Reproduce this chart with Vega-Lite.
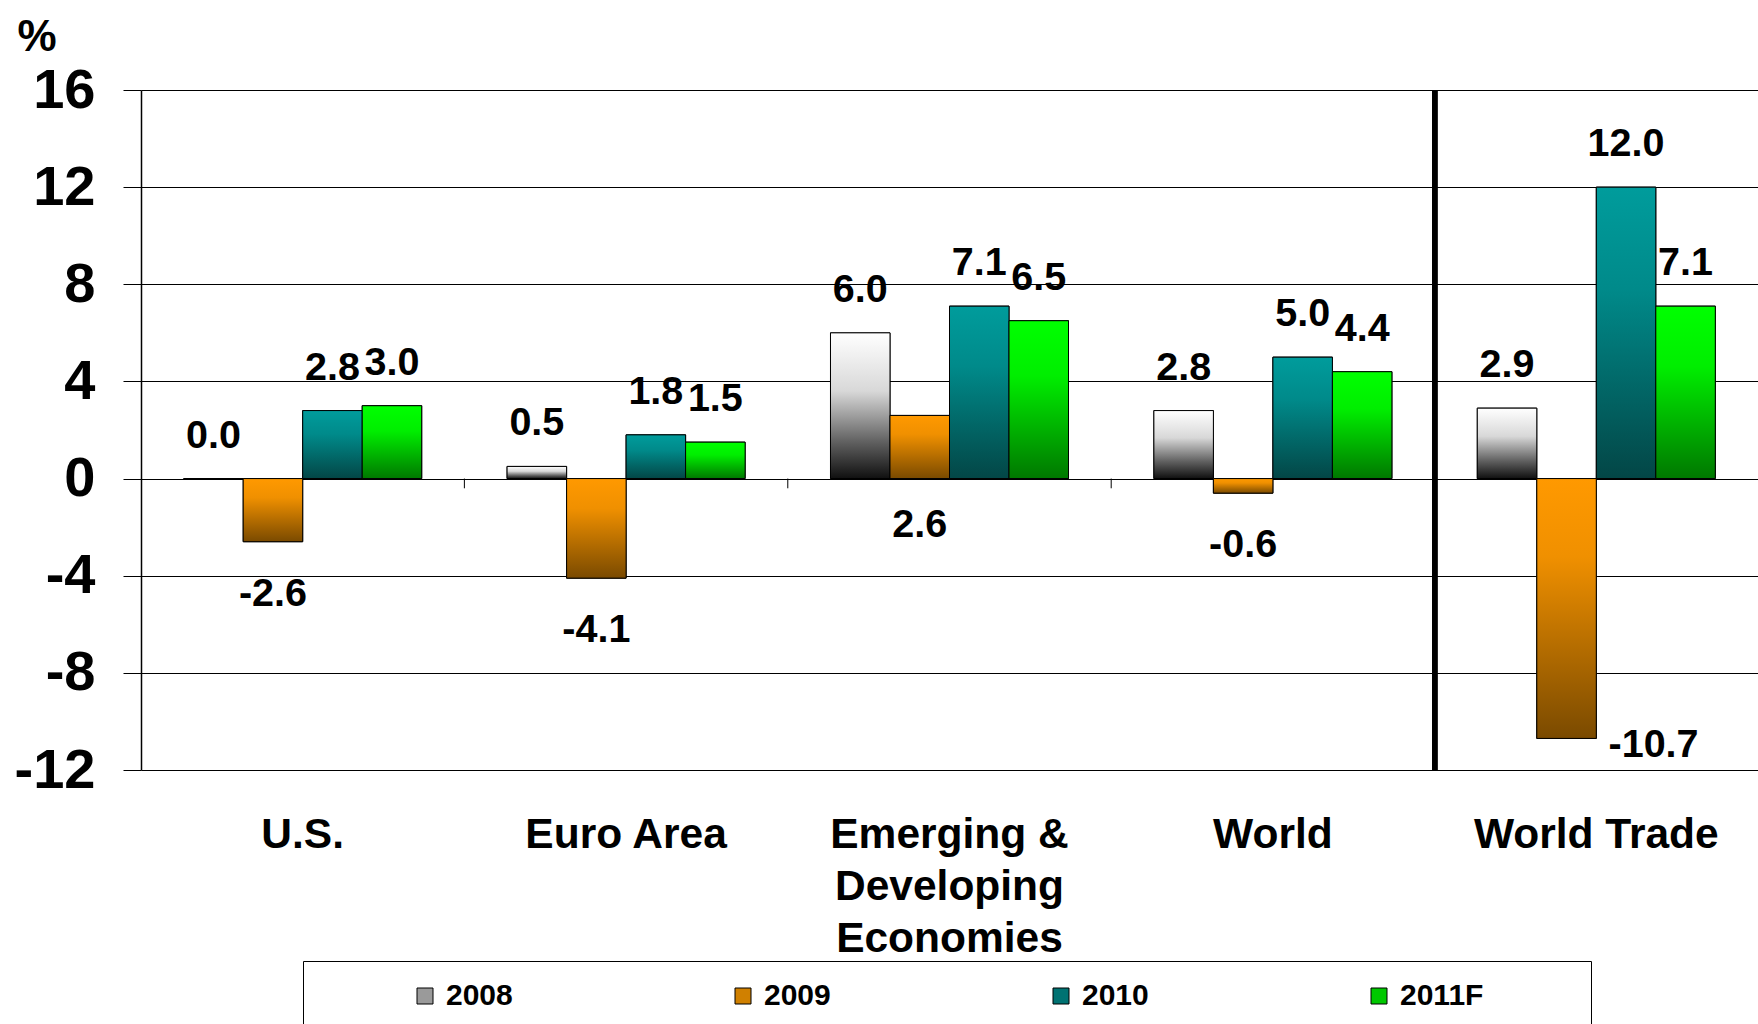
{
  "$schema": "https://vega.github.io/schema/vega-lite/v6.json",
  "width": 1617,
  "height": 680,
  "autosize": {"type": "none"},
  "padding": {"left": 141, "top": 90, "right": 0, "bottom": 254},
  "background": "white",
  "config": {
    "view": {"stroke": null},
    "font": "Liberation Sans",
    "locale": {"number": {"decimal": ".", "thousands": ",", "grouping": [3], "currency": ["$", ""], "minus": "-"}}
  },
  "data": {
    "values": [
      {"group": "U.S.", "year": "2008", "value": 0.0},
      {"group": "U.S.", "year": "2009", "value": -2.6},
      {"group": "U.S.", "year": "2010", "value": 2.8},
      {"group": "U.S.", "year": "2011F", "value": 3.0},
      {"group": "Euro Area", "year": "2008", "value": 0.5},
      {"group": "Euro Area", "year": "2009", "value": -4.1},
      {"group": "Euro Area", "year": "2010", "value": 1.8},
      {"group": "Euro Area", "year": "2011F", "value": 1.5},
      {"group": "Emerging & Developing Economies", "year": "2008", "value": 6.0},
      {"group": "Emerging & Developing Economies", "year": "2009", "value": 2.6},
      {"group": "Emerging & Developing Economies", "year": "2010", "value": 7.1},
      {"group": "Emerging & Developing Economies", "year": "2011F", "value": 6.5},
      {"group": "World", "year": "2008", "value": 2.8},
      {"group": "World", "year": "2009", "value": -0.6},
      {"group": "World", "year": "2010", "value": 5.0},
      {"group": "World", "year": "2011F", "value": 4.4},
      {"group": "World Trade", "year": "2008", "value": 2.9},
      {"group": "World Trade", "year": "2009", "value": -10.7},
      {"group": "World Trade", "year": "2010", "value": 12.0},
      {"group": "World Trade", "year": "2011F", "value": 7.1}
    ]
  },
  "encoding": {
    "x": {
      "field": "group",
      "type": "nominal",
      "sort": null,
      "scale": {"paddingInner": 0.264, "paddingOuter": 0.132},
      "axis": {
        "title": null,
        "labelAngle": 0,
        "domain": false,
        "ticks": false,
        "labelFont": "Liberation Sans",
        "labelFontSize": 42.5,
        "labelFontWeight": "bold",
        "labelColor": "#000",
        "labelPadding": 43,
        "labelBaseline": "top",
        "labelLineHeight": 52,
        "labelLimit": 400,
        "labelExpr": "datum.value == 'Emerging & Developing Economies' ? ['Emerging &', 'Developing', 'Economies'] : datum.label"
      }
    }
  },
  "layer": [
    {
      "mark": {"type": "bar", "stroke": "#000", "strokeWidth": 1},
      "encoding": {
        "xOffset": {"field": "year", "type": "nominal", "scale": {"domain": ["2008", "2009", "2010", "2011F"], "paddingInner": 0, "paddingOuter": 0}},
        "y": {
          "field": "value",
          "type": "quantitative",
          "scale": {"domain": [-12, 16], "nice": false, "zero": false},
          "axis": {
            "title": "%",
            "titleAngle": 0,
            "titleX": -124,
            "titleY": -40,
            "titleAlign": "left",
            "titleBaseline": "alphabetic",
            "titleFont": "Liberation Sans",
            "titleFontSize": 44,
            "titleFontWeight": "bold",
            "titleColor": "#000",
            "values": [-12, -8, -4, 0, 4, 8, 12, 16],
            "grid": true,
            "gridColor": "#000",
            "gridWidth": 1,
            "gridOpacity": 1,
            "tickColor": "#000",
            "tickSize": 18,
            "tickWidth": 1,
            "domainColor": "#000",
            "domainWidth": 1.5,
            "labelFont": "Liberation Sans",
            "labelFontSize": 56,
            "labelFontWeight": "bold",
            "labelColor": "#000",
            "labelPadding": 28
          }
        },
        "color": {
          "field": "year",
          "type": "nominal",
          "scale": {"domain": ["2008", "2009", "2010", "2011F"], "range": ["#9a9a9a", "#d08000", "#007272", "#00c800"]},
          "legend": {
            "title": "\u00a0",
            "titleOrient": "right",
            "titlePadding": 88,
            "titleFontSize": 10,
            "orient": "none",
            "legendX": 162,
            "legendY": 871,
            "direction": "horizontal",
            "columns": 4,
            "padding": 20,
            "strokeColor": "#000",
            "fillColor": "#fff",
            "symbolType": "square",
            "symbolSize": 256,
            "symbolStrokeColor": "#000",
            "symbolStrokeWidth": 1,
            "symbolOpacity": 1,
            "symbolOffset": 87,
            "labelOffset": 6,
            "columnPadding": 128,
            "labelFont": "Liberation Sans",
            "labelFontSize": 30,
            "labelFontWeight": "bold",
            "labelColor": "#000"
          }
        }
      }
    },
    {
      "mark": {"type": "bar", "stroke": "#000", "strokeWidth": 1},
      "encoding": {
        "xOffset": {"field": "year", "type": "nominal"},
        "y": {"field": "value", "type": "quantitative"},
        "fill": {
          "condition": [
            {"test": "datum.year === '2008'", "value": {"gradient": "linear", "x1": 0, "y1": 0, "x2": 0, "y2": 1, "stops": [{"offset": 0, "color": "#ffffff"}, {"offset": 0.4, "color": "#d8d8d8"}, {"offset": 0.75, "color": "#606060"}, {"offset": 1, "color": "#101010"}]}},
            {"test": "datum.year === '2009'", "value": {"gradient": "linear", "x1": 0, "y1": 0, "x2": 0, "y2": 1, "stops": [{"offset": 0, "color": "#ff9900"}, {"offset": 0.3, "color": "#f09000"}, {"offset": 1, "color": "#7a4a00"}]}},
            {"test": "datum.year === '2010'", "value": {"gradient": "linear", "x1": 0, "y1": 0, "x2": 0, "y2": 1, "stops": [{"offset": 0, "color": "#009c9c"}, {"offset": 0.35, "color": "#008a8a"}, {"offset": 1, "color": "#034646"}]}}
          ],
          "value": {"gradient": "linear", "x1": 0, "y1": 0, "x2": 0, "y2": 1, "stops": [{"offset": 0, "color": "#00ff00"}, {"offset": 0.35, "color": "#00ee00"}, {"offset": 1, "color": "#007800"}]}
        }
      }
    },
    {
      "transform": [{"filter": "datum.year === '2008' && datum.group !== 'U.S.'"}],
      "mark": {"type": "rule", "color": "#000", "strokeWidth": 1},
      "encoding": {
        "x": {"field": "group", "type": "nominal", "bandPosition": -0.1794},
        "y": {"datum": 0, "type": "quantitative"},
        "y2": {"datum": -0.4}
      }
    },
    {
      "mark": {"type": "rule", "color": "#000", "strokeWidth": 5},
      "encoding": {
        "x": {"datum": "World Trade", "type": "nominal", "bandPosition": -0.1794}
      }
    },
    {
      "transform": [{"filter": "datum.value >= 0 && !(datum.group === 'Emerging & Developing Economies' && datum.year === '2009')"}],
      "mark": {"type": "text", "baseline": "middle", "dy": -43, "font": "Liberation Sans", "fontSize": 39.5, "fontWeight": "bold", "color": "#000"},
      "encoding": {
        "xOffset": {"field": "year", "type": "nominal"},
        "y": {"field": "value", "type": "quantitative"},
        "text": {"field": "value", "type": "quantitative", "format": ".1f"}
      }
    },
    {
      "transform": [{"filter": "datum.value < 0 && datum.value > -10"}],
      "mark": {"type": "text", "baseline": "middle", "dy": 52, "font": "Liberation Sans", "fontSize": 39.5, "fontWeight": "bold", "color": "#000"},
      "encoding": {
        "xOffset": {"field": "year", "type": "nominal"},
        "y": {"field": "value", "type": "quantitative"},
        "text": {"field": "value", "type": "quantitative", "format": ".1f"}
      }
    },
    {
      "transform": [{"filter": "datum.group === 'Emerging & Developing Economies' && datum.year === '2009'"}],
      "mark": {"type": "text", "baseline": "middle", "dy": 46, "font": "Liberation Sans", "fontSize": 39.5, "fontWeight": "bold", "color": "#000"},
      "encoding": {
        "xOffset": {"field": "year", "type": "nominal"},
        "y": {"datum": 0, "type": "quantitative"},
        "text": {"field": "value", "type": "quantitative", "format": ".1f"}
      }
    },
    {
      "transform": [{"filter": "datum.value <= -10"}],
      "mark": {"type": "text", "baseline": "middle", "dx": 87, "dy": 7, "font": "Liberation Sans", "fontSize": 39.5, "fontWeight": "bold", "color": "#000"},
      "encoding": {
        "xOffset": {"field": "year", "type": "nominal"},
        "y": {"field": "value", "type": "quantitative"},
        "text": {"field": "value", "type": "quantitative", "format": ".1f"}
      }
    }
  ]
}
